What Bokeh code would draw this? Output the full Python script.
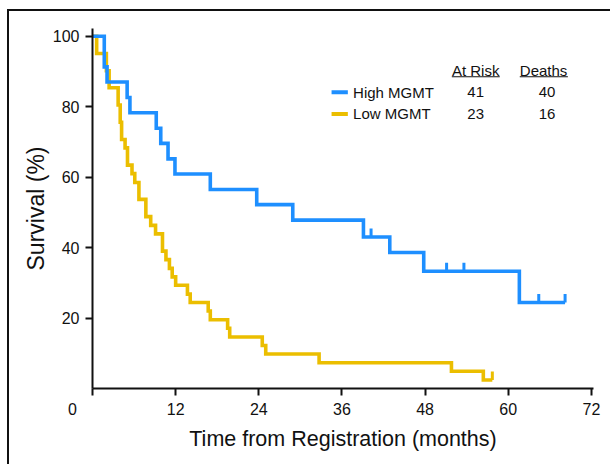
from bokeh.plotting import figure
from bokeh.models import Range1d, FixedTicker, ColumnDataSource
from bokeh.embed import file_html
from bokeh.resources import INLINE
from bokeh.core.properties import value

# ---- data ----
high_t = [0, 1.7, 2.1, 5.0, 5.4, 9.2, 9.85, 10.9, 11.9, 17.0, 23.7, 28.9, 39.1, 42.9, 47.8, 61.6, 68.2]
high_s = [100, 91.3, 87.0, 82.6, 78.3, 73.9, 69.6, 65.2, 60.9, 56.5, 52.2, 47.8, 43.0, 38.6, 33.3, 24.4, 24.4]
high_cens_t = [40.2, 51.1, 53.6, 64.4, 68.2]
high_cens_s = [43.0, 33.3, 33.3, 24.4, 24.4]

low_t = [0, 0.6, 2.0, 2.4, 3.7, 4.0, 4.2, 4.7, 5.05, 5.7, 6.1, 6.7, 7.7, 8.4, 9.1, 10.1, 10.6,
         11.1, 11.5, 12.0, 13.7, 14.1, 16.7, 17.0, 19.5, 19.8, 24.5, 25.0, 32.7, 51.8, 56.4, 57.7]
low_s = [100, 95.1, 90.2, 85.4, 80.5, 75.6, 70.7, 68.3, 63.4, 61.0, 58.5, 53.7, 48.8, 46.3, 43.9, 39.0, 36.6,
         34.1, 31.7, 29.3, 26.8, 24.4, 22.0, 19.5, 17.1, 14.6, 12.2, 9.8, 7.3, 4.9, 2.4, 2.4]
low_cens_t = [57.7]
low_cens_s = [2.4]

group_labels = ["High MGMT", "Low MGMT"]
at_risk = ["41", "23"]
deaths = ["40", "16"]
col_headers = ["At Risk", "Deaths"]
x_ticks = [0, 12, 24, 36, 48, 60, 72]
y_ticks = [20, 40, 60, 80, 100]

BLUE = "#1E8FFF"
GOLD = "#EBBE00"
INK = "#111111"
CENS_H = 2.4
NBSP = "\u00a0"

p = figure(width=603, height=455, x_range=Range1d(0, 72.3), y_range=Range1d(0, 102.2),
           output_backend="svg", toolbar_location=None,
           min_border_left=83, min_border_right=19, min_border_top=17, min_border_bottom=78)
p.margin = (9, 0, 0, 7)
p.styles = {"border-top": "2px solid #111", "border-left": "2px solid #111"}
p.outline_line_color = None
p.xgrid.visible = False
p.ygrid.visible = False

# curves
p.step(low_t, low_s, mode="after", line_color=GOLD, line_width=3.6, line_join="miter")
p.segment(x0=low_cens_t, y0=low_cens_s, x1=low_cens_t, y1=[s + CENS_H for s in low_cens_s],
          line_color=GOLD, line_width=3)
p.step(high_t, high_s, mode="after", line_color=BLUE, line_width=3.6, line_join="miter")
p.segment(x0=high_cens_t, y0=high_cens_s, x1=high_cens_t, y1=[s + CENS_H for s in high_cens_s],
          line_color=BLUE, line_width=3)

# axes
for ax in (p.xaxis[0], p.yaxis[0]):
    ax.axis_line_width = 2
    ax.axis_line_color = INK
    ax.major_tick_line_color = INK
    ax.major_tick_line_width = 2
    ax.major_tick_in = 0
    ax.major_tick_out = 7
    ax.minor_tick_line_color = None
    ax.major_label_text_color = INK
    ax.axis_label_text_color = INK
    ax.axis_label_text_font_style = "normal"

p.xaxis.ticker = FixedTicker(ticks=x_ticks)
# the origin "0" sits left of the y axis in the reference
p.xaxis.major_label_overrides = {0: "0" + NBSP * 9}
p.yaxis.ticker = FixedTicker(ticks=y_ticks)
p.xaxis.major_label_text_font = "Liberation Sans"
p.xaxis.major_label_text_font_size = "16px"
p.xaxis.major_label_standoff = 5
p.xaxis.axis_label = "Time from Registration (months)"
p.xaxis.axis_label_text_font = "Liberation Sans"
p.xaxis.axis_label_text_font_size = "21.5px"
p.xaxis.axis_label_standoff = 6

p.yaxis.major_label_text_font = "Liberation Sans"
p.yaxis.major_label_text_font_size = "16px"
p.yaxis.major_label_standoff = 6
p.yaxis.axis_label = "Survival (%)"
p.yaxis.axis_label_text_font = "Liberation Sans"
p.yaxis.axis_label_text_font_size = "23px"
p.yaxis.axis_label_standoff = 1

# legend table
leg_y = [84.1, 77.95]
sw_x0, sw_x1 = 34.5, 36.85
name_x = 37.6
risk_x = 55.3
death_x = 65.6
head_y = 90.3

p.segment(x0=[sw_x0] * 2, y0=leg_y, x1=[sw_x1] * 2, y1=leg_y,
          line_color=[BLUE, GOLD], line_width=4)
leg_src = ColumnDataSource(dict(y=leg_y, name=group_labels, risk=at_risk, death=deaths))
common = dict(text_font=value("Liberation Sans"), text_font_size="15px", text_color=INK,
              text_baseline="middle")
p.text(x=name_x, y="y", text="name", source=leg_src, text_align="left", **common)
p.text(x=risk_x, y="y", text="risk", source=leg_src, text_align="center", **common)
p.text(x=death_x, y="y", text="death", source=leg_src, text_align="center", **common)
head_src = ColumnDataSource(dict(x=[risk_x, 65.1], y=[head_y] * 2, t=col_headers))
p.text(x="x", y="y", text="t", source=head_src, text_align="center", **common)
p.segment(x0=[51.85, 61.66], y0=[88.5] * 2, x1=[58.77, 68.6], y1=[88.5] * 2,
          line_color=INK, line_width=1.2)

open("out.html", "w").write(file_html(p, INLINE))
